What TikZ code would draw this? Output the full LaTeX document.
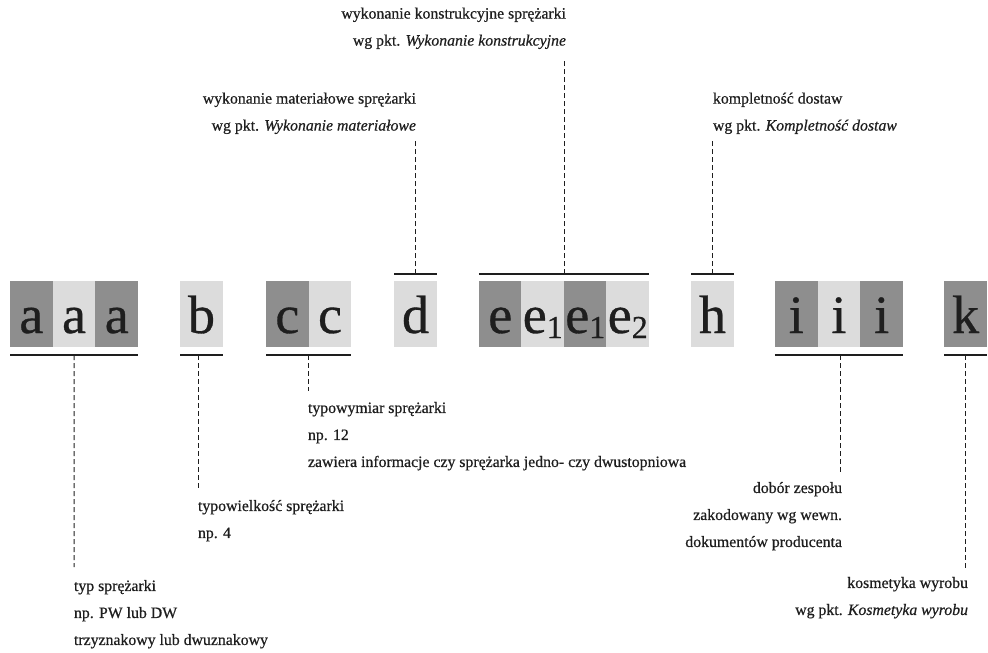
\documentclass[tikz,border=0pt]{standalone}
\usepackage{fontspec}
\setmainfont{Liberation Serif}[FakeBold=0.6, ItalicFeatures={FakeBold=0.6}]
\definecolor{boxdark}{HTML}{8E8E8E}
\definecolor{boxlight}{HTML}{DCDCDC}
\definecolor{ink}{HTML}{1E1E1E}
\newcommand\esub[1]{\raisebox{-5pt}{\fontsize{32}{32}\selectfont #1}}
\begin{document}
\begin{tikzpicture}[x=1pt,y=-1pt,
  box/.style={minimum width=42.7pt, minimum height=66pt, inner sep=0pt, outer sep=0pt,
    text height=38pt, text depth=0pt, text=ink, font=\fontsize{54}{54}\selectfont},
  dk/.style={box, fill=boxdark},
  lt/.style={box, fill=boxlight},
  brk/.style={line width=1.6pt, draw=ink},
  dsh/.style={line width=1pt, draw=ink, dash pattern=on 5pt off 3pt},
  lbl/.style={inner sep=0pt, outer sep=0pt, text=ink, font=\fontsize{15.8}{27}\selectfont},
  lbll/.style={lbl, align=left},
  lblr/.style={lbl, align=right}]
\useasboundingbox (0,0) rectangle (988,653);
% boxes
\node[dk] (a1) at (31.35,314) {a};
\node[lt] (a2) at (74.05,314) {a};
\node[dk] (a3) at (116.75,314) {a};
\node[lt] (b1) at (201.5,314) {b};
\node[dk] (c1) at (287.35,314) {c};
\node[lt] (c2) at (330.05,314) {c};
\node[lt] (d1) at (415.5,314) {d};
\node[dk] (e1) at (500.25,314) {e};
\node[lt] (e2) at (542.75,314) {e\esub{1}};
\node[dk] (e3) at (585.25,314) {e\esub{1}};
\node[lt] (e4) at (627.75,314) {e\esub{2}};
\node[lt] (h1) at (712.5,314) {h};
\node[dk] (i1) at (796.3,314) {i};
\node[lt] (i2) at (839,314) {i};
\node[dk] (i3) at (881.7,314) {i};
\node[dk] (k1) at (965.6,314) {k};
% brackets
\draw[brk] ([yshift=-8pt]a1.south west) -- coordinate (au) ([yshift=-8pt]a3.south east);
\draw[brk] ([yshift=-8pt]b1.south west) -- coordinate (bu) ([yshift=-8pt]b1.south east);
\draw[brk] ([yshift=-8pt]c1.south west) -- coordinate (cu) ([yshift=-8pt]c2.south east);
\draw[brk] ([yshift=-8pt]i1.south west) -- coordinate (iu) ([yshift=-8pt]i3.south east);
\draw[brk] ([yshift=-8pt]k1.south west) -- coordinate (ku) ([yshift=-8pt]k1.south east);
\draw[brk] ([yshift=7pt]d1.north west) -- coordinate (dov) ([yshift=7pt]d1.north east);
\draw[brk] ([yshift=7pt]e1.north west) -- coordinate (eov) ([yshift=7pt]e4.north east);
\draw[brk] ([yshift=7pt]h1.north west) -- coordinate (hov) ([yshift=7pt]h1.north east);
% labels
\node[lbll, anchor=north west] (la) at (74,580) {typ sprężarki\\np. PW lub DW\\trzyznakowy lub dwuznakowy};
\node[lbll, anchor=north west] (lb) at (198,500) {typowielkość sprężarki\\np. 4};
\node[lbll, anchor=north west] (lc) at (308,402) {typowymiar sprężarki\\np. 12\\zawiera informacje czy sprężarka jedno- czy dwustopniowa};
\node[lblr, anchor=north east] (li) at (842,482) {dobór zespołu\\zakodowany wg wewn.\\dokumentów producenta};
\node[lblr, anchor=north east] (lk) at (968,577) {kosmetyka wyrobu\\wg pkt. \textit{Kosmetyka wyrobu}};
\node[lblr, anchor=south east] (ld) at (416,134) {wykonanie materiałowe sprężarki\\wg pkt. \textit{Wykonanie materiałowe}};
\node[lblr, anchor=south east] (le) at (566,49) {wykonanie konstrukcyjne sprężarki\\wg pkt. \textit{Wykonanie konstrukcyjne}};
\node[lbll, anchor=south west] (lh) at (713,134) {kompletność dostaw\\wg pkt. \textit{Kompletność dostaw}};
% connectors
\draw[dsh] (au) -- ([yshift=13pt]la.north west);
\draw[dsh] (lb.north west |- bu) -- ([yshift=11pt]lb.north west);
\draw[dsh] (lc.north west |- cu) -- ([yshift=11pt]lc.north west);
\draw[dsh] (840,355) -- (840,473);
\draw[dsh] (ku) -- (ku |- 0,568);
\draw[dsh] (dov) -- (dov |- 0,140);
\draw[dsh] (eov) -- (eov |- 0,60);
\draw[dsh] (hov) -- (hov |- 0,140);
\end{tikzpicture}
\end{document}
